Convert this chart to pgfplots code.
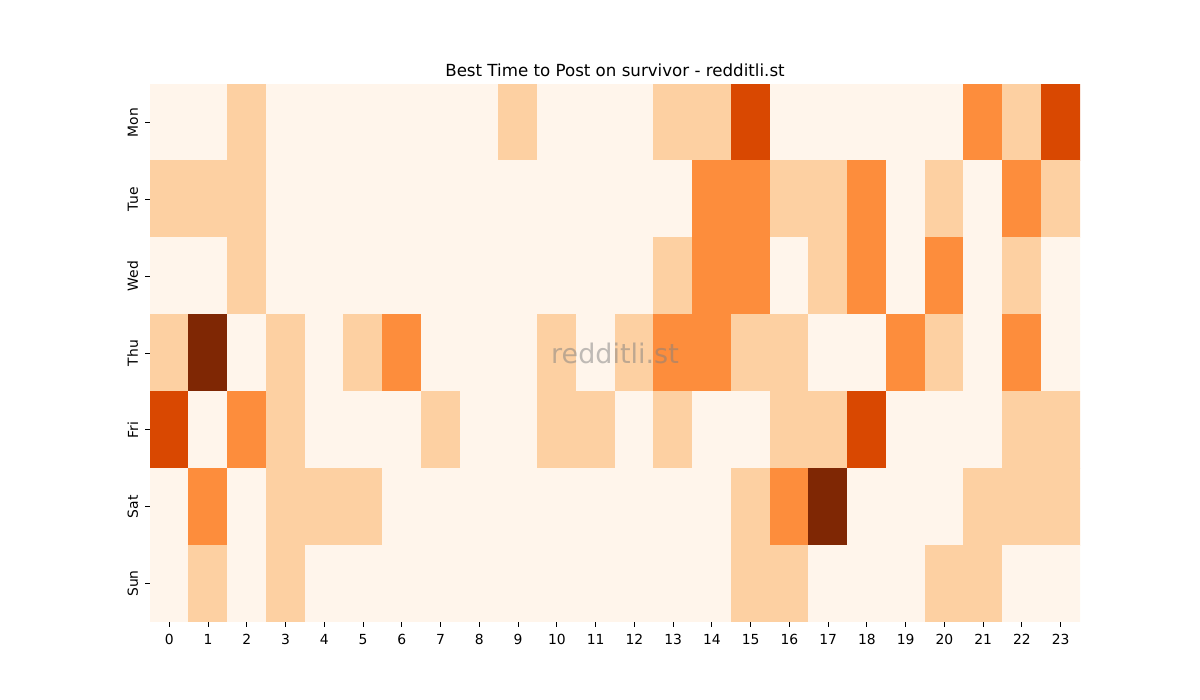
\documentclass[border=0pt]{standalone}
\usepackage{pgfplots}
\pgfplotsset{compat=1.18}
\usepackage{fontspec}
\setmainfont{DejaVu Sans}
\definecolor{c0}{RGB}{255,245,235}
\definecolor{c1}{RGB}{253,208,162}
\definecolor{c2}{RGB}{253,141,60}
\definecolor{c3}{RGB}{217,72,1}
\definecolor{c4}{RGB}{127,39,4}
\begin{document}
\begin{tikzpicture}
\path (0,0) rectangle (600pt,350pt);
\begin{axis}[
  at={(75pt,39pt)}, anchor=south west,
  width=465pt, height=269pt, scale only axis,
  xmin=-0.5, xmax=23.5, ymin=-0.5, ymax=6.5,
  enlargelimits=false,
  axis line style={draw=none},
  xtick={0,...,23}, ytick={0,...,6},
  yticklabels={Sun,Sat,Fri,Thu,Wed,Tue,Mon},
  yticklabel style={rotate=90, anchor=south},
  tick align=outside, major tick length=2.45pt,
  tick style={black, line width=0.4pt},
  xtick pos=left, ytick pos=left,
  tick label style={font=\fontsize{6.94}{8}\selectfont},
  /pgf/number format/assume math mode=true,
  title={Best Time to Post on survivor - redditli.st},
  title style={font=\fontsize{8.33}{10}\selectfont, inner sep=0pt, anchor=base, at={(0.5,1)}, yshift=-2.4pt},
  colormap={oranges}{color(0)=(c0) color(1)=(c1) color(2)=(c2) color(3)=(c3) color(4)=(c4)},
  point meta min=0, point meta max=4,
]
\addplot[matrix plot*, mesh/cols=24, point meta=explicit] table[row sep=\\, meta=c] {
x y c\\
0 6 0\\ 1 6 0\\ 2 6 1\\ 3 6 0\\ 4 6 0\\ 5 6 0\\ 6 6 0\\ 7 6 0\\ 8 6 0\\ 9 6 1\\ 10 6 0\\ 11 6 0\\ 12 6 0\\ 13 6 1\\ 14 6 1\\ 15 6 3\\ 16 6 0\\ 17 6 0\\ 18 6 0\\ 19 6 0\\ 20 6 0\\ 21 6 2\\ 22 6 1\\ 23 6 3\\
0 5 1\\ 1 5 1\\ 2 5 1\\ 3 5 0\\ 4 5 0\\ 5 5 0\\ 6 5 0\\ 7 5 0\\ 8 5 0\\ 9 5 0\\ 10 5 0\\ 11 5 0\\ 12 5 0\\ 13 5 0\\ 14 5 2\\ 15 5 2\\ 16 5 1\\ 17 5 1\\ 18 5 2\\ 19 5 0\\ 20 5 1\\ 21 5 0\\ 22 5 2\\ 23 5 1\\
0 4 0\\ 1 4 0\\ 2 4 1\\ 3 4 0\\ 4 4 0\\ 5 4 0\\ 6 4 0\\ 7 4 0\\ 8 4 0\\ 9 4 0\\ 10 4 0\\ 11 4 0\\ 12 4 0\\ 13 4 1\\ 14 4 2\\ 15 4 2\\ 16 4 0\\ 17 4 1\\ 18 4 2\\ 19 4 0\\ 20 4 2\\ 21 4 0\\ 22 4 1\\ 23 4 0\\
0 3 1\\ 1 3 4\\ 2 3 0\\ 3 3 1\\ 4 3 0\\ 5 3 1\\ 6 3 2\\ 7 3 0\\ 8 3 0\\ 9 3 0\\ 10 3 1\\ 11 3 0\\ 12 3 1\\ 13 3 2\\ 14 3 2\\ 15 3 1\\ 16 3 1\\ 17 3 0\\ 18 3 0\\ 19 3 2\\ 20 3 1\\ 21 3 0\\ 22 3 2\\ 23 3 0\\
0 2 3\\ 1 2 0\\ 2 2 2\\ 3 2 1\\ 4 2 0\\ 5 2 0\\ 6 2 0\\ 7 2 1\\ 8 2 0\\ 9 2 0\\ 10 2 1\\ 11 2 1\\ 12 2 0\\ 13 2 1\\ 14 2 0\\ 15 2 0\\ 16 2 1\\ 17 2 1\\ 18 2 3\\ 19 2 0\\ 20 2 0\\ 21 2 0\\ 22 2 1\\ 23 2 1\\
0 1 0\\ 1 1 2\\ 2 1 0\\ 3 1 1\\ 4 1 1\\ 5 1 1\\ 6 1 0\\ 7 1 0\\ 8 1 0\\ 9 1 0\\ 10 1 0\\ 11 1 0\\ 12 1 0\\ 13 1 0\\ 14 1 0\\ 15 1 1\\ 16 1 2\\ 17 1 4\\ 18 1 0\\ 19 1 0\\ 20 1 0\\ 21 1 1\\ 22 1 1\\ 23 1 1\\
0 0 0\\ 1 0 1\\ 2 0 0\\ 3 0 1\\ 4 0 0\\ 5 0 0\\ 6 0 0\\ 7 0 0\\ 8 0 0\\ 9 0 0\\ 10 0 0\\ 11 0 0\\ 12 0 0\\ 13 0 0\\ 14 0 0\\ 15 0 1\\ 16 0 1\\ 17 0 0\\ 18 0 0\\ 19 0 0\\ 20 0 1\\ 21 0 1\\ 22 0 0\\ 23 0 0\\
};
\node[text=gray, opacity=0.5, font=\fontsize{13.5}{15}\selectfont] at (axis description cs:0.5,0.5) {redditli.st};
\end{axis}
\end{tikzpicture}
\end{document}
